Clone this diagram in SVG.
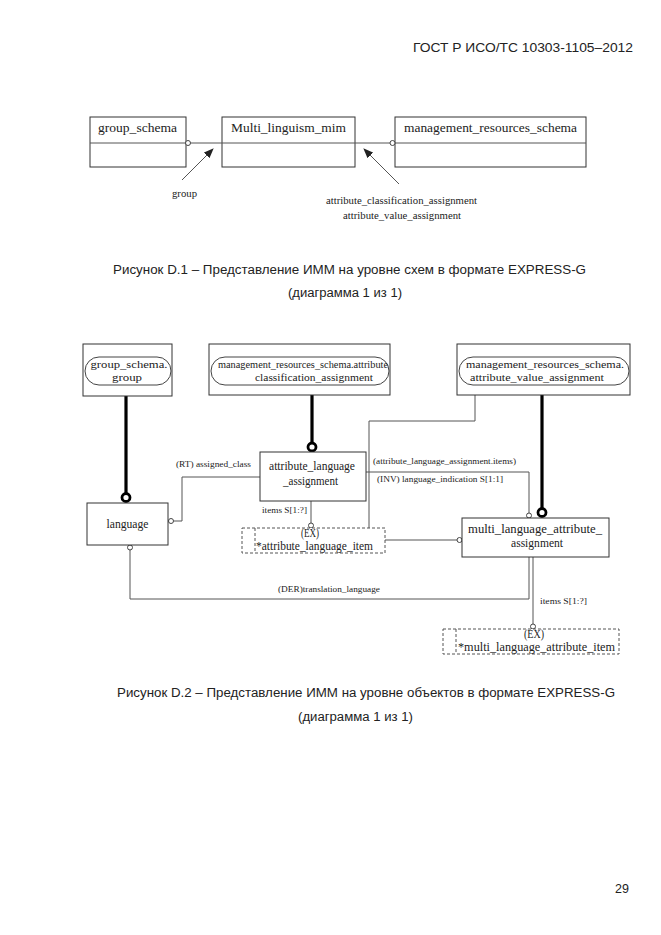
<svg xmlns="http://www.w3.org/2000/svg" width="661" height="935" viewBox="0 0 661 935">
<style>
.box{fill:#fff;stroke:#333;stroke-width:1}
.pill{fill:none;stroke:#444;stroke-width:1}
.ln{fill:none;stroke:#555;stroke-width:1}
.thick{fill:none;stroke:#000;stroke-width:3.2}
.tc{fill:#fff;stroke:#000;stroke-width:2.8}
.sc{fill:#fff;stroke:#444;stroke-width:1}
.dash{fill:#fff;stroke:#555;stroke-width:1;stroke-dasharray:3 2}
.t{font-family:"Liberation Serif","Times New Roman",serif;fill:#222}
.n{font-size:12px}
.p{font-size:10.5px}
.l{font-size:9px}
.cap{font-family:"Liberation Sans",Arial,sans-serif;font-size:12.5px;fill:#222}
</style>
<defs>
<marker id="arr" markerWidth="10" markerHeight="8" refX="9" refY="4" orient="auto" markerUnits="userSpaceOnUse">
<path d="M0,0 L10,4 L0,8 Z" fill="#222"/>
</marker>
</defs>

<text class="cap" x="413" y="52" textLength="220" lengthAdjust="spacingAndGlyphs">ГОСТ Р ИСО/ТС 10303-1105–2012</text>

<!-- Figure D.1 -->
<g id="top-group_schema">
<rect class="box" x="90" y="117" width="96" height="50"/>
<line class="ln" x1="90" y1="143" x2="186" y2="143" stroke="#333"/>
<text class="t" x="98" y="132" font-size="13.4" textLength="79" lengthAdjust="spacingAndGlyphs">group_schema</text>
</g>
<g id="top-multi_linguism_mim">
<rect class="box" x="222" y="117" width="133" height="50"/>
<line class="ln" x1="222" y1="143" x2="355" y2="143"/>
<text class="t" x="231" y="132" font-size="13.4" textLength="115" lengthAdjust="spacingAndGlyphs">Multi_linguism_mim</text>
</g>
<g id="top-management_resources_schema">
<rect class="box" x="395" y="117" width="191" height="50"/>
<line class="ln" x1="395" y1="143" x2="586" y2="143"/>
<text class="t" x="404" y="132" font-size="13.4" textLength="173" lengthAdjust="spacingAndGlyphs">management_resources_schema</text>
</g>
<g id="top-connectors">
<line class="ln" x1="190.5" y1="143" x2="222" y2="143"/>
<circle class="sc" cx="188" cy="143" r="2.5"/>
<line class="ln" x1="355" y1="143" x2="390" y2="143"/>
<circle class="sc" cx="392.5" cy="143" r="2.5"/>
<line class="ln" x1="182" y1="180" x2="213" y2="149" stroke="#222" marker-end="url(#arr)"/>
<line class="ln" x1="399" y1="184" x2="364" y2="149" stroke="#222" marker-end="url(#arr)"/>
<text class="t" x="184.5" y="197" font-size="10.5" text-anchor="middle" textLength="25" lengthAdjust="spacingAndGlyphs">group</text>
<text class="t" x="401.5" y="204" font-size="10.5" text-anchor="middle" textLength="151" lengthAdjust="spacingAndGlyphs">attribute_classification_assignment</text>
<text class="t" x="402" y="219" font-size="10.5" text-anchor="middle" textLength="118" lengthAdjust="spacingAndGlyphs">attribute_value_assignment</text>
</g>

<text class="cap" x="113" y="274" textLength="473" lengthAdjust="spacingAndGlyphs">Рисунок  D.1 – Представление ИММ на уровне схем в формате EXPRESS-G</text>
<text class="cap" x="288" y="297" textLength="114" lengthAdjust="spacingAndGlyphs">(диаграмма 1  из 1)</text>

<!-- Figure D.2 -->
<g id="connectors">
<line class="thick" x1="126" y1="396" x2="126" y2="493"/>
<circle class="tc" cx="126" cy="497.5" r="4"/>
<line class="thick" x1="312" y1="395" x2="312" y2="443"/>
<circle class="tc" cx="312" cy="447" r="4"/>
<line class="thick" x1="542" y1="395" x2="542" y2="508"/>
<circle class="tc" cx="542" cy="512.5" r="4"/>

<path class="ln" d="M260,477 H182 V521 H173.5"/>
<circle class="sc" cx="171" cy="521" r="2.5"/>
<path class="ln" d="M311,501 V523"/>
<circle class="sc" cx="311" cy="525.5" r="2.5"/>
<path class="ln" d="M369,528 V421 H475 V395"/>
<path class="ln" d="M366,472 H529 V513"/>
<circle class="sc" cx="529" cy="515.5" r="2.5"/>
<path class="ln" d="M385,540 H457"/>
<circle class="sc" cx="459.5" cy="540" r="2.5"/>
<path class="ln" d="M130,550 V599 H529 V557"/>
<circle class="sc" cx="130" cy="547.5" r="2.5"/>
<path class="ln" d="M533,557 V624"/>
<circle class="sc" cx="533" cy="626.5" r="2.5"/>

<text class="t l" x="176" y="467" textLength="75" lengthAdjust="spacingAndGlyphs">(RT) assigned_class</text>
<text class="t l" x="262" y="513" textLength="45" lengthAdjust="spacingAndGlyphs">items S[1:?]</text>
<text class="t l" x="373" y="464" textLength="143" lengthAdjust="spacingAndGlyphs">(attribute_language_assignment.items)</text>
<text class="t l" x="377" y="482" textLength="126" lengthAdjust="spacingAndGlyphs">(INV) language_indication S[1:1]</text>
<text class="t l" x="278" y="592" textLength="102" lengthAdjust="spacingAndGlyphs">(DER)translation_language</text>
<text class="t l" x="540" y="604" textLength="47" lengthAdjust="spacingAndGlyphs">items S[1:?]</text>
</g>

<g id="group_schema.group">
<rect class="box" x="83" y="344" width="89" height="52"/>
<rect class="pill" x="85" y="357" width="86" height="28" rx="14"/>
<text class="t p" x="129" y="368" text-anchor="middle" textLength="77" lengthAdjust="spacingAndGlyphs">group_schema.</text>
<text class="t p" x="127" y="380.5" text-anchor="middle" textLength="30" lengthAdjust="spacingAndGlyphs">group</text>
</g>
<g id="management_resources_schema.attribute_classification_assignment">
<rect class="box" x="209" y="344" width="181" height="51"/>
<rect class="pill" x="211" y="357" width="178" height="28" rx="14"/>
<text class="t p" x="303" y="368" text-anchor="middle" textLength="170" lengthAdjust="spacingAndGlyphs">management_resources_schema.attribute</text>
<text class="t p" x="314" y="380.5" text-anchor="middle" textLength="118" lengthAdjust="spacingAndGlyphs">classification_assignment</text>
</g>
<g id="management_resources_schema.attribute_value_assignment">
<rect class="box" x="457" y="344" width="173" height="51"/>
<rect class="pill" x="459" y="357" width="170" height="28" rx="14"/>
<text class="t p" x="545" y="368" text-anchor="middle" textLength="158" lengthAdjust="spacingAndGlyphs">management_resources_schema.</text>
<text class="t p" x="537" y="380.5" text-anchor="middle" textLength="134" lengthAdjust="spacingAndGlyphs">attribute_value_assignment</text>
</g>
<g id="language">
<rect class="box" x="87" y="503" width="81" height="42"/>
<text class="t n" x="127.5" y="528" text-anchor="middle" textLength="42" lengthAdjust="spacingAndGlyphs">language</text>
</g>
<g id="attribute_language_assignment">
<rect class="box" x="260" y="452" width="106" height="49"/>
<text class="t n" x="312" y="470" text-anchor="middle" textLength="86" lengthAdjust="spacingAndGlyphs">attribute_language</text>
<text class="t n" x="310.5" y="485" text-anchor="middle" textLength="55" lengthAdjust="spacingAndGlyphs">_assignment</text>
</g>
<g id="multi_language_attribute_assignment">
<rect class="box" x="462" y="518" width="147" height="39"/>
<text class="t n" x="535" y="533" text-anchor="middle" textLength="134" lengthAdjust="spacingAndGlyphs">multi_language_attribute_</text>
<text class="t n" x="537" y="547" text-anchor="middle" textLength="52" lengthAdjust="spacingAndGlyphs">assignment</text>
</g>
<g id="attribute_language_item">
<rect class="dash" x="242" y="528" width="143" height="25"/>
<line class="dash" x1="255" y1="528" x2="255" y2="553"/>
<text class="t n" x="310" y="537" text-anchor="middle" textLength="18" lengthAdjust="spacingAndGlyphs">(EX)</text>
<text class="t n" x="256" y="550" textLength="117" lengthAdjust="spacingAndGlyphs">*attribute_language_item</text>
</g>
<g id="multi_language_attribute_item">
<rect class="dash" x="443" y="629" width="176" height="25"/>
<line class="dash" x1="456" y1="629" x2="456" y2="654"/>
<text class="t n" x="534" y="638" text-anchor="middle" textLength="20" lengthAdjust="spacingAndGlyphs">(EX)</text>
<text class="t n" x="458" y="651" textLength="157" lengthAdjust="spacingAndGlyphs">*multi_language_attribute_item</text>
</g>

<text class="cap" x="117" y="697" textLength="498" lengthAdjust="spacingAndGlyphs">Рисунок  D.2 – Представление ИММ на уровне объектов в формате EXPRESS-G</text>
<text class="cap" x="298" y="721" textLength="115" lengthAdjust="spacingAndGlyphs">(диаграмма 1 из 1)</text>

<text class="cap" x="615" y="893">29</text>
</svg>
